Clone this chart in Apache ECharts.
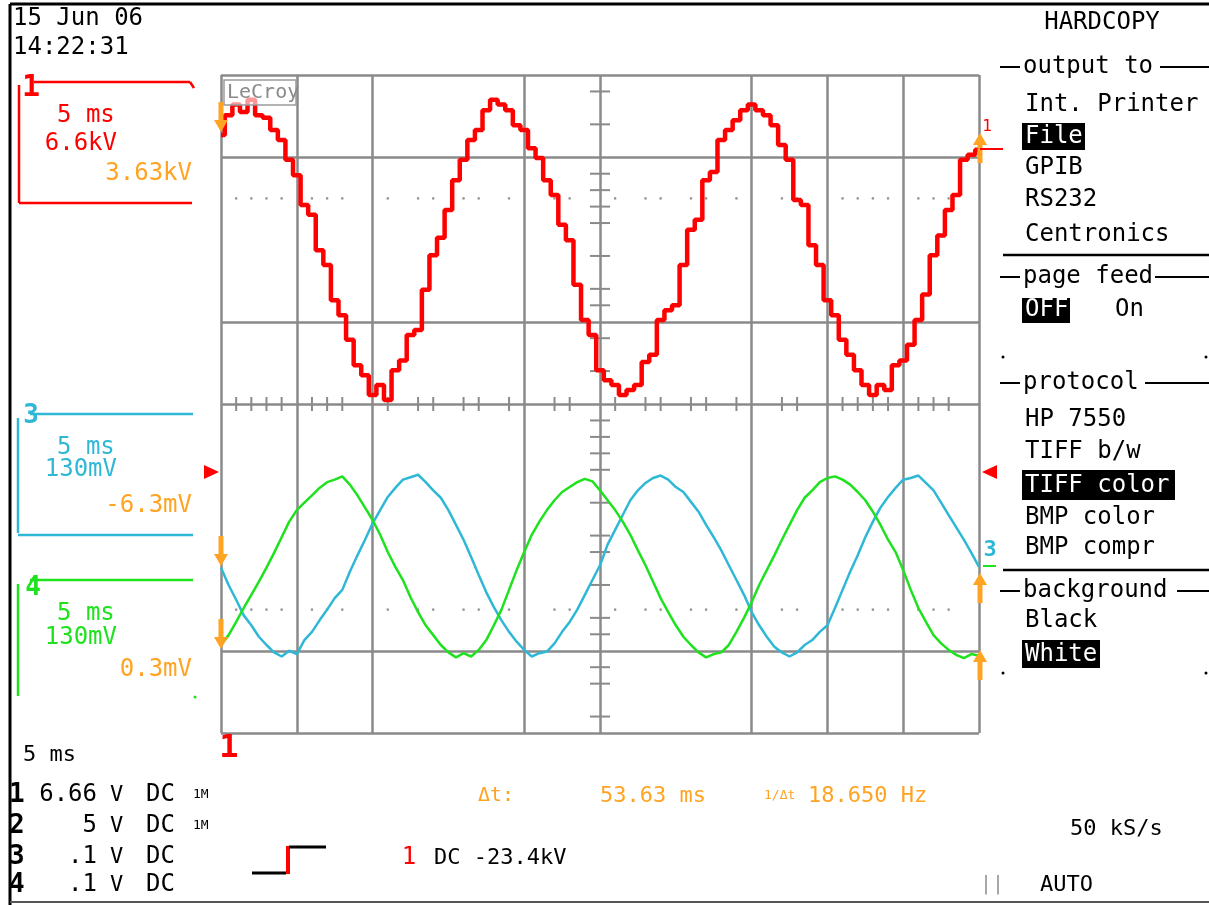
<!DOCTYPE html>
<html>
<head>
<meta charset="utf-8">
<script src="https://cdn.jsdelivr.net/npm/echarts@6/dist/echarts.min.js"></script>
<style>
  html, body { margin: 0; padding: 0; background: #ffffff; }
  #scope { width: 1209px; height: 905px; }
</style>
</head>
<body>
<div id="scope"></div>
<script>
// Sample times (ms) across the 10 x 5 ms screen
const timeMs = [
  0,0.5,1,1.5,2,2.5,3,3.5,4,4.5,5,5.5,6,6.5,7,7.5,8,8.5,9,9.5,
  10,10.5,11,11.5,12,12.5,13,13.5,14,14.5,15,15.5,16,16.5,17,17.5,18,18.5,19,19.5,
  20,20.5,21,21.5,22,22.5,23,23.5,24,24.5,25,25.5,26,26.5,27,27.5,28,28.5,29,29.5,
  30,30.5,31,31.5,32,32.5,33,33.5,34,34.5,35,35.5,36,36.5,37,37.5,38,38.5,39,39.5,
  40,40.5,41,41.5,42,42.5,43,43.5,44,44.5,45,45.5,46,46.5,47,47.5,48,48.5,49,49.5,50
];

// Channel 1 (red), screen divisions from centre
const ch1 = [
  3.27,3.51,3.64,3.55,3.70,3.51,3.48,3.33,3.21,2.97,
  2.78,2.42,2.30,1.87,1.69,1.26,1.08,0.78,0.47,0.35,
  0.11,0.23,0.05,0.41,0.53,0.84,0.90,1.39,1.81,2.02,
  2.36,2.72,2.97,3.21,3.33,3.57,3.70,3.64,3.57,3.39,
  3.33,3.11,2.99,2.72,2.54,2.18,1.99,1.45,1.02,0.84,
  0.41,0.29,0.23,0.11,0.17,0.23,0.51,0.60,1.02,1.14,
  1.20,1.69,2.12,2.24,2.72,2.82,3.21,3.33,3.45,3.57,
  3.64,3.57,3.51,3.39,3.15,2.97,2.48,2.42,1.93,1.69,
  1.26,1.08,0.78,0.60,0.41,0.23,0.11,0.23,0.17,0.47,
  0.53,0.72,1.02,1.33,1.81,2.05,2.36,2.54,2.97,3.03,
  3.09
];

// Channel 3 (cyan), screen divisions from centre
const ch3 = [
  -1.99,-2.20,-2.38,-2.57,-2.69,-2.83,-2.93,-3.02,-3.07,-3.00,
  -3.04,-2.87,-2.77,-2.63,-2.50,-2.36,-2.26,-2.04,-1.84,-1.65,
  -1.45,-1.29,-1.13,-1.02,-0.92,-0.89,-0.86,-0.95,-1.05,-1.14,
  -1.29,-1.47,-1.65,-1.86,-2.08,-2.29,-2.47,-2.63,-2.77,-2.89,
  -2.99,-3.07,-3.03,-3.01,-2.91,-2.77,-2.65,-2.50,-2.32,-2.14,
  -1.96,-1.71,-1.53,-1.35,-1.17,-1.05,-0.96,-0.90,-0.87,-0.92,
  -1.01,-1.07,-1.19,-1.31,-1.47,-1.62,-1.78,-1.96,-2.14,-2.32,
  -2.53,-2.69,-2.83,-2.95,-3.02,-3.07,-3.02,-2.93,-2.87,-2.77,
  -2.69,-2.48,-2.26,-2.04,-1.84,-1.62,-1.43,-1.26,-1.13,-1.02,
  -0.92,-0.90,-0.87,-0.96,-1.05,-1.20,-1.35,-1.50,-1.65,-1.81,
  -1.98
];

// Channel 4 (green), screen divisions from centre
const ch4 = [
  -2.93,-2.81,-2.65,-2.48,-2.32,-2.16,-1.99,-1.81,-1.62,-1.43,
  -1.29,-1.20,-1.11,-1.02,-0.95,-0.92,-0.88,-0.98,-1.11,-1.26,
  -1.41,-1.59,-1.80,-1.98,-2.14,-2.35,-2.53,-2.69,-2.81,-2.93,
  -3.02,-3.08,-3.03,-3.07,-2.99,-2.87,-2.69,-2.50,-2.26,-2.02,
  -1.80,-1.59,-1.43,-1.29,-1.17,-1.07,-1.01,-0.95,-0.91,-0.94,
  -1.05,-1.17,-1.29,-1.43,-1.59,-1.78,-1.96,-2.16,-2.36,-2.53,
  -2.69,-2.83,-2.93,-3.02,-3.08,-3.04,-3.02,-2.93,-2.77,-2.60,
  -2.41,-2.20,-2.02,-1.84,-1.65,-1.47,-1.29,-1.14,-1.05,-0.95,
  -0.90,-0.88,-0.92,-0.98,-1.07,-1.17,-1.31,-1.47,-1.65,-1.80,
  -2.02,-2.26,-2.48,-2.65,-2.81,-2.91,-2.99,-3.05,-3.09,-3.04,
  -3.06
];

// Minor marks (ms) on the centre line and dotted rows
const minorMs = [1,2,3,4,6,7,8,11,13,14,16,17,19,22,23,26,28,29,31,32,34,37,38,41,42,43,44,46,47,48];
// Minor marks (div) on the vertical centre line
const minorDiv = [3.8,3.4,2.8,2.6,2.4,2.2,1.8,1.4,1.2,0.8,0.4,-0.2,-0.4,-0.6,-0.8,-1.2,-1.6,-1.8,-2.2,-2.6,-2.8,-3.2,-3.4,-3.8];

const RED = '#ff0000', CYAN = '#2fb8d6', GREEN = '#1ee21e', ORANGE = '#ffa322', GRAY = '#8a8a8a';
const MONO = '"DejaVu Sans Mono", "Liberation Mono", monospace';
const T = 'transparent';

const pairs = (ys) => timeMs.map((t, i) => [t, ys[i]]);

const chart = echarts.init(document.getElementById('scope'));
chart.setOption({
  animation: false,
  backgroundColor: '#ffffff',
  grid: { left: 221, top: 75, width: 758, height: 658 },
  xAxis: {
    type: 'value', min: 0, max: 50, interval: 5,
    axisLine: { show: false }, axisTick: { show: false }, axisLabel: { show: false },
    splitLine: { show: true, lineStyle: { width: 2.5, color: [GRAY, GRAY, GRAY, T, GRAY, GRAY, T, GRAY, GRAY, GRAY, GRAY] } }
  },
  yAxis: {
    type: 'value', min: -4, max: 4, interval: 1,
    axisLine: { show: false }, axisTick: { show: false }, axisLabel: { show: false },
    splitLine: { show: true, lineStyle: { width: 2.5, color: [GRAY, GRAY, T, T, GRAY, GRAY, T, GRAY, GRAY] } }
  },
  series: [
    { name: 'CH3', type: 'line', data: pairs(ch3), symbol: 'none', lineStyle: { color: CYAN, width: 2.5 }, z: 3 },
    { name: 'CH4', type: 'line', data: pairs(ch4), symbol: 'none', lineStyle: { color: GREEN, width: 2.5 }, z: 3 },
    { name: 'CH1', type: 'line', data: pairs(ch1), symbol: 'none', step: 'middle', lineStyle: { color: RED, width: 4.5 }, z: 4 }
  ]
});

const px = (t, v) => chart.convertToPixel({ gridIndex: 0 }, [t, v]);
const g = [];
const line = (x1, y1, x2, y2, stroke, w, z) => g.push({ type: 'line', z: z || 5, shape: { x1, y1, x2, y2 }, style: { stroke, lineWidth: w || 2 } });
const text = (x, y, s, fill, size, align, weight, z) => g.push({
  type: 'text', z: z || 10, x, y,
  style: { text: s, fill, font: (weight || 'normal') + ' ' + (size || 24) + 'px ' + MONO, textAlign: align || 'left', textVerticalAlign: 'middle' }
});
const rect = (x, y, w, h, fill, z) => g.push({ type: 'rect', z: z || 8, shape: { x, y, width: w, height: h }, style: { fill } });
const poly = (pts, fill, z) => g.push({ type: 'polygon', z: z || 9, shape: { points: pts }, style: { fill } });
const arrowDown = (x, tip) => { rect(x - 2.5, tip - 30, 5, 20, ORANGE, 9); poly([[x - 7, tip - 12], [x + 7, tip - 12], [x, tip]], ORANGE); };
const arrowUp = (x, tip) => { rect(x - 2.5, tip + 10, 5, 20, ORANGE, 9); poly([[x - 7, tip + 12], [x + 7, tip + 12], [x, tip]], ORANGE); };

// Screen frame
line(10, 4, 1209, 4, '#000', 3);
line(10, 4, 10, 905, '#000', 3);
line(10, 902, 1209, 902, '#555', 2);

// Centre-line minor marks and dotted quarter rows
minorMs.forEach(t => {
  const a = px(t, 0.085), b = px(t, -0.085);
  line(a[0], a[1], b[0], b[1], GRAY, 2, 2);
  [2.5, -2.5].forEach(v => {
    const p = px(t, v);
    g.push({ type: 'circle', z: 2, shape: { cx: p[0], cy: p[1], r: 1.3 }, style: { fill: '#999' } });
  });
});
minorDiv.forEach(v => {
  const a = px(24.34, v), b = px(25.66, v);
  line(a[0], a[1], b[0], b[1], GRAY, 2, 2);
});

// Maker badge
g.push({ type: 'rect', z: 6, shape: { x: 224, y: 80, width: 72, height: 25 }, style: { fill: 'rgba(255,255,255,0.6)', stroke: '#9a9a9a', lineWidth: 1.5 } });
text(227, 93, 'LeCroy', '#8a8a8a', 20, 'left', 'normal', 7);

// Ground / offset markers on the screen edges
arrowDown(221, 132);
arrowUp(980, 133);
text(987, 127, '1', RED, 16, 'center');
line(980, 149, 1003, 149, RED, 2, 9);
arrowDown(221, 566);
arrowDown(221, 649);
arrowUp(980, 573);
arrowUp(980, 650);
poly([[204, 465], [204, 479], [219, 472]], RED);
poly([[997, 465], [997, 479], [982, 472]], RED);
text(990, 550, '3', CYAN, 22, 'center', 'bold');
line(983, 566, 996, 566, GREEN, 2, 9);
text(229, 749, '1', RED, 32, 'center', 'bold');

// Header: date and time
text(13, 19, '15 Jun 06', '#000', 24);
text(13, 48, '14:22:31', '#000', 24);

// Channel 1 box
line(19, 85, 19, 203, RED, 2.5); line(34, 82, 190, 82, RED, 2.5); line(190, 82, 194, 88, RED, 2.5);
line(19, 203, 192, 203, RED, 2.5);
text(31, 88, '1', RED, 30, 'center', 'bold');
text(57, 116, '5 ms', RED, 24);
text(117, 144, '6.6kV', RED, 24, 'right');
text(192, 174, '3.63kV', ORANGE, 24, 'right');

// Channel 3 box
line(18, 418, 18, 533, CYAN, 2.5); line(30, 414, 193, 414, CYAN, 2.5);
line(18, 535, 193, 535, CYAN, 2.5);
text(31, 416, '3', CYAN, 26, 'center', 'bold');
text(57, 448, '5 ms', CYAN, 24);
text(117, 470, '130mV', CYAN, 24, 'right');
text(192, 506, '-6.3mV', ORANGE, 24, 'right');

// Channel 4 box
line(18, 584, 18, 696, GREEN, 2.5); line(30, 580, 193, 580, GREEN, 2.5);
text(33, 588, '4', GREEN, 26, 'center', 'bold');
text(57, 614, '5 ms', GREEN, 24);
text(117, 638, '130mV', GREEN, 24, 'right');
text(192, 670, '0.3mV', ORANGE, 24, 'right');
g.push({ type: 'circle', z: 8, shape: { cx: 195, cy: 697, r: 1.5 }, style: { fill: GREEN } });

// Hardcopy menu
const MX = 1025;
text(1102, 23, 'HARDCOPY', '#000', 24, 'center');
const heading = (y, s, endX) => { line(1000, y, 1020, y, '#000', 2); text(1023, y, s, '#000', 24); line(endX, y, 1209, y, '#000', 2); };
heading(67, 'output to', 1160);
text(MX, 105, 'Int. Printer', '#000', 24);
rect(1022, 123, 63, 27, '#000'); text(MX, 137, 'File', '#fff', 24, 'left', 'normal', 11);
text(MX, 168, 'GPIB', '#000', 24);
text(MX, 200, 'RS232', '#000', 24);
text(MX, 235, 'Centronics', '#000', 24);
line(1003, 255, 1209, 255, '#000', 2.5);
heading(277, 'page feed', 1155);
rect(1022, 298, 48, 25, '#000'); text(MX, 310, 'OFF', '#fff', 24, 'left', 'normal', 11);
text(1115, 310, 'On', '#000', 24);
g.push({ type: 'circle', z: 8, shape: { cx: 1003, cy: 357, r: 1.5 }, style: { fill: '#000' } });
g.push({ type: 'circle', z: 8, shape: { cx: 1206, cy: 357, r: 1.5 }, style: { fill: '#000' } });
heading(383, 'protocol', 1145);
text(MX, 420, 'HP 7550', '#000', 24);
text(MX, 452, 'TIFF b/w', '#000', 24);
rect(1022, 470, 153, 30, '#000'); text(MX, 486, 'TIFF color', '#fff', 24, 'left', 'normal', 11);
text(MX, 518, 'BMP color', '#000', 24);
text(MX, 548, 'BMP compr', '#000', 24);
line(1003, 570, 1209, 570, '#000', 2.5);
heading(591, 'background', 1177);
text(MX, 621, 'Black', '#000', 24);
rect(1022, 640, 78, 28, '#000'); text(MX, 655, 'White', '#fff', 24, 'left', 'normal', 11);
g.push({ type: 'circle', z: 8, shape: { cx: 1003, cy: 673, r: 1.5 }, style: { fill: '#000' } });
g.push({ type: 'circle', z: 8, shape: { cx: 1206, cy: 673, r: 1.5 }, style: { fill: '#000' } });

// Bottom status area
text(23, 755, '5 ms', '#000', 22);
const rows = [
  [795, '1', '6.66', 'V', 'DC', '1M'],
  [826, '2', '5', 'V', 'DC', '1M'],
  [857, '3', '.1', 'V', 'DC', ''],
  [885, '4', '.1', 'V', 'DC', '']
];
rows.forEach(([y, n, volts, unit, cpl, imp]) => {
  text(9, y, n, '#000', 26, 'left', 'bold');
  text(97, y, volts, '#000', 24, 'right');
  text(110, y, unit, '#000', 22);
  text(146, y, cpl, '#000', 24);
  if (imp) text(193, y, imp, '#000', 13);
});
// Trigger slope symbol and level
line(252, 873, 286, 873, '#000', 3);
line(288, 874, 288, 846, RED, 4);
line(289, 847, 326, 847, '#000', 3);
text(409, 858, '1', RED, 24, 'center');
text(434, 858, 'DC -23.4kV', '#000', 22);
// Cursor readout
text(478, 796, 'Δt:', ORANGE, 20);
text(600, 796, '53.63 ms', ORANGE, 22);
text(764, 796, '1/Δt', ORANGE, 13);
text(808, 796, '18.650 Hz', ORANGE, 22);
text(1070, 829, '50 kS/s', '#000', 22);
text(980, 885, '||', '#999', 20);
text(1040, 885, 'AUTO', '#000', 22);

chart.setOption({ graphic: { elements: g } });
</script>
</body>
</html>
